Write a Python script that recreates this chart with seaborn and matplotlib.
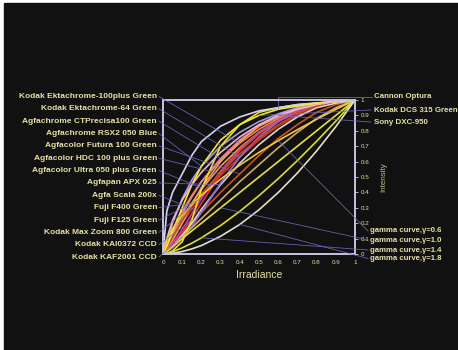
import matplotlib
matplotlib.use("Agg")
import matplotlib.pyplot as plt
import seaborn as sns
import pandas as pd
from matplotlib.patches import Rectangle

# irradiance sample points (shared by every curve)
irr = [0, 0.02, 0.05, 0.1, 0.15, 0.2, 0.3, 0.4, 0.5, 0.6, 0.7, 0.8, 0.9, 1.0]

# response curves
left_names = [
    "Kodak Ektachrome-100plus Green", "Kodak Ektachrome-64 Green",
    "Agfachrome CTPrecisa100 Green", "Agfachrome RSX2 050 Blue",
    "Agfacolor Futura 100 Green", "Agfacolor HDC 100 plus Green",
    "Agfacolor Ultra 050 plus Green", "Agfapan APX 025", "Agfa Scala 200x",
    "Fuji F400 Green", "Fuji F125 Green", "Kodak Max Zoom 800 Green",
    "Kodak KAI0372 CCD", "Kodak KAF2001 CCD",
]
right_names = ["Cannon Optura", "Kodak DCS 315 Green", "Sony DXC-950"]
gamma_names = ["gamma curve,γ=0.6", "gamma curve,γ=1.0",
               "gamma curve,γ=1.4", "gamma curve,γ=1.8"]

ektachrome100 = [0, .06, .15, .28, .38, .47, .61, .72, .81, .88, .93, .97, .99, 1]
ektachrome64 = [0, .04, .10, .20, .29, .37, .51, .63, .74, .83, .90, .95, .98, 1]
ctprecisa = [0, .05, .13, .26, .37, .47, .62, .74, .83, .89, .94, .97, .99, 1]
rsx2 = [0, .08, .20, .36, .48, .57, .70, .79, .86, .91, .95, .97, .99, 1]
futura = [0, .02, .06, .13, .20, .27, .40, .52, .64, .75, .84, .92, .97, 1]
hdc = [0, .02, .06, .14, .23, .33, .52, .67, .78, .86, .92, .96, .99, 1]
ultra = [0, .03, .09, .20, .32, .43, .60, .73, .83, .90, .94, .97, .99, 1]
apx = [0, .02, .05, .12, .20, .29, .45, .59, .71, .81, .89, .95, .98, 1]
scala = [0, .01, .04, .10, .18, .27, .46, .63, .76, .86, .93, .97, .99, 1]
f400 = [0, .05, .12, .23, .33, .42, .57, .69, .79, .87, .93, .97, .99, 1]
f125 = [0, .02, .07, .16, .26, .36, .54, .68, .79, .87, .93, .97, .99, 1]
maxzoom = [0, .04, .11, .22, .31, .39, .53, .65, .75, .84, .91, .96, .99, 1]
kai0372 = [0, 0, .02, .08, .22, .42, .70, .84, .92, .95, .97, .98, .99, 1]
kaf2001 = [0, .02, .05, .11, .17, .23, .35, .47, .58, .69, .79, .88, .95, 1]
optura = [0, .28, .40, .52, .64, .73, .83, .89, .93, .95, .97, .98, .99, 1]
dcs315 = [0, .05, .15, .30, .45, .57, .74, .84, .90, .94, .96, .98, .99, 1]
sony = [0, .10, .22, .35, .45, .53, .66, .76, .84, .90, .94, .97, .99, 1]
gamma06 = [0, .096, .166, .251, .320, .381, .486, .577, .660, .736, .807, .875, .939, 1]
gamma10 = [0, .02, .05, .10, .15, .20, .30, .40, .50, .60, .70, .80, .90, 1]
gamma14 = [0, .004, .015, .040, .070, .105, .185, .277, .379, .489, .607, .732, .863, 1]
gamma18 = [0, .001, .005, .016, .033, .055, .115, .192, .287, .399, .526, .669, .827, 1]

curves = [ektachrome100, ektachrome64, ctprecisa, rsx2, futura, hdc, ultra, apx,
          scala, f400, f125, maxzoom, kai0372, kaf2001,
          optura, dcs315, sony, gamma06, gamma10, gamma14, gamma18]
names = left_names + right_names + gamma_names
colors = ["#f08a2a", "#d42a22", "#ee7fa0", "#a898e0", "#c8561a", "#e0382c",
          "#f49a78", "#d8d8d8", "#9a6ad0", "#f0a040", "#c84098", "#b8501e",
          "#f0e030", "#d0a868",
          "#d8d0f0", "#f4ec3a", "#f0b8c8", "#f0c838", "#e4e040", "#d8dc3c", "#e0e0c8"]

# which sample of its curve each label points to
left_pick = [7, 7, 6, 5, 7, 6, 5, 6, 5, 4, 5, 4, 4, 3]
right_pick = [9, 8, 9]
gamma_pick = [9, 6, 5, 7]

rows = []
for nm, ys in zip(names, curves):
    for xv, yv in zip(irr, ys):
        rows.append({"curve": nm, "Irradiance": xv, "Intensity": yv})
df = pd.DataFrame(rows)

sns.set_theme(style="dark")
plt.rcParams["font.family"] = ["Liberation Sans", "DejaVu Sans"]

txt = "#e6e0a6"
bg = "#111111"
lead = "#6f6fcc"

fig = plt.figure(figsize=(4.58, 3.5), dpi=100, facecolor="white")
fig.patches.append(Rectangle((4 / 458, 0), 1, 1 - 3 / 350, transform=fig.transFigure,
                             color=bg, zorder=-5))
W, H = 458, 350
ax = fig.add_axes([163 / W, 96 / H, 192 / W, 154 / H])
ax.set_facecolor(bg)

sns.lineplot(data=df, x="Irradiance", y="Intensity", hue="curve",
             palette=dict(zip(names, colors)), hue_order=names, sort=False,
             estimator=None, linewidth=1.2, legend=False, ax=ax)

ax.set_xlim(0, 1)
ax.set_ylim(0, 1)
ticks = [0, .1, .2, .3, .4, .5, .6, .7, .8, .9, 1]
tlabels = ["0", "0.1", "0.2", "0.3", "0.4", "0.5", "0.6", "0.7", "0.8", "0.9", "1"]
ax.set_xticks(ticks)
ax.set_xticklabels(tlabels)
ax.yaxis.tick_right()
ax.set_yticks(ticks)
ax.set_yticklabels(tlabels)
ax.tick_params(colors="#c8c8dc", labelcolor=txt, labelsize=4.5, length=2, width=0.6, pad=2)
ax.grid(False)
for s in ax.spines.values():
    s.set_color("#c8c4e0")
    s.set_linewidth(1.4)
ax.set_xlabel("Irradiance", color=txt, fontsize=7.5, labelpad=4)
ax.yaxis.set_label_position("right")
ax.set_ylabel("Intensity", color="#c0bc90", fontsize=5.8, labelpad=8)


def fig_px(x, y):
    return (x / W, 1 - y / H)


# left side labels with leader lines
for i, nm in enumerate(left_names):
    ypx = 96.5 + 12.35 * i
    k = left_pick[i]
    fig.text(157 / W, 1 - ypx / H, nm, color=txt, fontsize=6.0, fontweight="bold",
             ha="right", va="center")
    ax.annotate("", xy=(irr[k], curves[i][k]), xycoords="data",
                xytext=fig_px(159, ypx), textcoords="figure fraction",
                arrowprops=dict(arrowstyle="-", color=lead, lw=0.6, alpha=0.85,
                                shrinkA=0, shrinkB=0), annotation_clip=False)

# right side labels (cameras)
right_y = [97, 110, 122]
for j, nm in enumerate(right_names):
    ci = len(left_names) + j
    k = right_pick[j]
    fig.text(374 / W, 1 - right_y[j] / H, nm, color=txt, fontsize=5.7, fontweight="bold",
             ha="left", va="center")
    if j == 0:
        ax.plot([1.09, irr[k], irr[k]], [1.02, 1.02, curves[ci][k]], color=lead,
                lw=0.6, alpha=0.9, clip_on=False)
    else:
        ax.annotate("", xy=(irr[k], curves[ci][k]), xycoords="data",
                    xytext=fig_px(371, right_y[j]), textcoords="figure fraction",
                    arrowprops=dict(arrowstyle="-", color=lead, lw=0.6, alpha=0.85,
                                    shrinkA=0, shrinkB=0), annotation_clip=False)

# gamma labels
gamma_y = [231, 240, 250, 258.5]
for j, nm in enumerate(gamma_names):
    ci = len(left_names) + len(right_names) + j
    k = gamma_pick[j]
    fig.text(370 / W, 1 - gamma_y[j] / H, nm, color=txt, fontsize=5.6, fontweight="bold",
             ha="left", va="center")
    ax.annotate("", xy=(irr[k], curves[ci][k]), xycoords="data",
                xytext=fig_px(368, gamma_y[j]), textcoords="figure fraction",
                arrowprops=dict(arrowstyle="-", color=lead, lw=0.6, alpha=0.85,
                                shrinkA=0, shrinkB=0), annotation_clip=False)

fig.savefig("out.png", dpi=100, facecolor=fig.get_facecolor())
